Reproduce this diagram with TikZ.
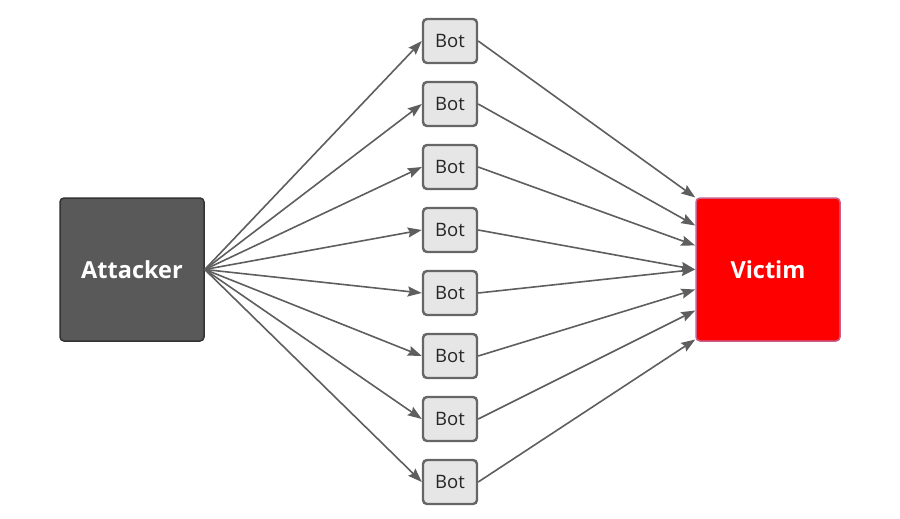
\documentclass[tikz,border=0pt]{standalone}
\usepackage{fontspec}
\setmainfont{Open Sans}
\usetikzlibrary{arrows.meta}
\definecolor{attfill}{HTML}{595959}
\definecolor{attdraw}{HTML}{333333}
\definecolor{botfill}{HTML}{E6E6E6}
\definecolor{botdraw}{HTML}{666666}
\definecolor{vicdraw}{HTML}{C8608A}
\definecolor{arrcol}{HTML}{5E5E5E}
\tikzset{
  bigbox/.style={rectangle, rounded corners=4pt, minimum width=144pt, minimum height=143pt, inner sep=0pt, line width=1.5pt, text=white, font=\fontsize{23.5}{28}\selectfont\bfseries},
  attbox/.style={bigbox, fill=attfill, draw=attdraw},
  vicbox/.style={bigbox, fill=red, draw=vicdraw},
  botbox/.style={rectangle, rounded corners=4pt, minimum width=54pt, minimum height=44pt, inner sep=0pt, fill=botfill, draw=botdraw, line width=2.4pt, text=black!85, font=\fontsize{18.5}{22}\selectfont},
  conn/.style={draw=arrcol, line width=1.6pt, -{Stealth[length=14pt,width=10pt,inset=2pt]}}
}
\begin{document}
\begin{tikzpicture}[x=1pt,y=-1pt]
\useasboundingbox (0,0) rectangle (900,519);
\node[attbox] (att) at (132,269.5) {Attacker};
\node[vicbox] (vic) at (768,269.5) {Victim};
\foreach \i/\y in {1/41,2/104,3/167,4/230,5/293,6/356,7/419,8/482}{
  \node[botbox] (b\i) at (450,\y) {Bot};
}
\coordinate (src) at (att.east);
\foreach \i/\dy in {1/72,2/44,3/24,4/0,5/0,6/-20,7/-41,8/-70}{
  \coordinate (t\i) at ([yshift=\dy]vic.west);
}
\foreach \i in {1,...,8}{
  \draw[conn] (src) -- (b\i.west);
  \draw[conn] (b\i.east) -- (t\i);
}
\end{tikzpicture}
\end{document}
